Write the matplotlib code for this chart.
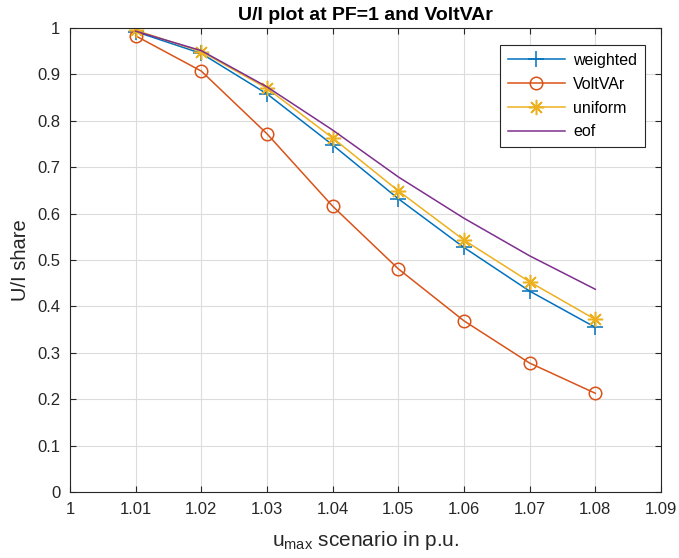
import matplotlib
matplotlib.use("Agg")
import matplotlib.pyplot as plt

plt.rcParams['font.family'] = ['Liberation Sans', 'DejaVu Sans']
plt.rcParams['mathtext.fontset'] = 'custom'
plt.rcParams['mathtext.rm'] = 'Liberation Sans'
plt.rcParams['mathtext.it'] = 'Liberation Sans'

# scenario values and U/I shares per control strategy
u_max = [1.01, 1.02, 1.03, 1.04, 1.05, 1.06, 1.07, 1.08]
weighted = [0.992, 0.945, 0.858, 0.748, 0.632, 0.527, 0.433, 0.355]
voltvar = [0.983, 0.907, 0.772, 0.616, 0.481, 0.369, 0.278, 0.213]
uniform = [0.995, 0.949, 0.870, 0.763, 0.649, 0.543, 0.453, 0.372]
eof = [0.993, 0.951, 0.873, 0.780, 0.679, 0.590, 0.509, 0.437]

x_ticks = [1, 1.01, 1.02, 1.03, 1.04, 1.05, 1.06, 1.07, 1.08, 1.09]
x_tick_labels = ["1", "1.01", "1.02", "1.03", "1.04", "1.05", "1.06", "1.07", "1.08", "1.09"]
y_ticks = [0, 0.1, 0.2, 0.3, 0.4, 0.5, 0.6, 0.7, 0.8, 0.9, 1]
y_tick_labels = ["0", "0.1", "0.2", "0.3", "0.4", "0.5", "0.6", "0.7", "0.8", "0.9", "1"]

fig = plt.figure(figsize=(6.79, 5.58), dpi=100)
ax = fig.add_axes([0.103, 0.118, 0.8705, 0.832])

ax.plot(u_max, weighted, color="#0072BD", marker="+", markersize=11, mew=1.1, lw=1.1, label="weighted")
ax.plot(u_max, voltvar, color="#D95319", marker="o", markersize=9, mfc="none", mew=1.1, lw=1.1, label="VoltVAr")
ax.plot(u_max, uniform, color="#EDB120", marker=(8, 2, 0), markersize=11, mew=1.1, lw=1.1, label="uniform")
ax.plot(u_max, eof, color="#7E2F8E", lw=1.1, label="eof")

ax.set_xlim(1, 1.09)
ax.set_ylim(0, 1)
ax.set_xticks(x_ticks)
ax.set_xticklabels(x_tick_labels)
ax.set_yticks(y_ticks)
ax.set_yticklabels(y_tick_labels)
ax.tick_params(direction="in", top=True, right=True, labelsize=12, length=4,
               color="#262626", labelcolor="#262626", pad=7)
ax.grid(True, color="#dcdcdc", lw=0.8)
ax.set_axisbelow(True)
for s in ax.spines.values():
    s.set_color("#262626")
    s.set_linewidth(0.8)

ax.set_title("U/I plot at PF=1 and VoltVAr", fontsize=14, fontweight="bold", pad=6)
ax.set_xlabel(r"u$_{\mathrm{max}}$ scenario in p.u.", fontsize=15, color="#262626", labelpad=9)
ax.set_ylabel("U/I share", fontsize=14.5, color="#262626", labelpad=5)

leg = ax.legend(loc="upper right", bbox_to_anchor=(0.973, 0.963), borderaxespad=0,
                fontsize=11.5, fancybox=False, framealpha=1, edgecolor="#262626",
                handlelength=3.6, borderpad=0.5, labelspacing=0.55, handletextpad=0.5)
leg.get_frame().set_linewidth(0.8)

fig.savefig("out.png", dpi=100)
